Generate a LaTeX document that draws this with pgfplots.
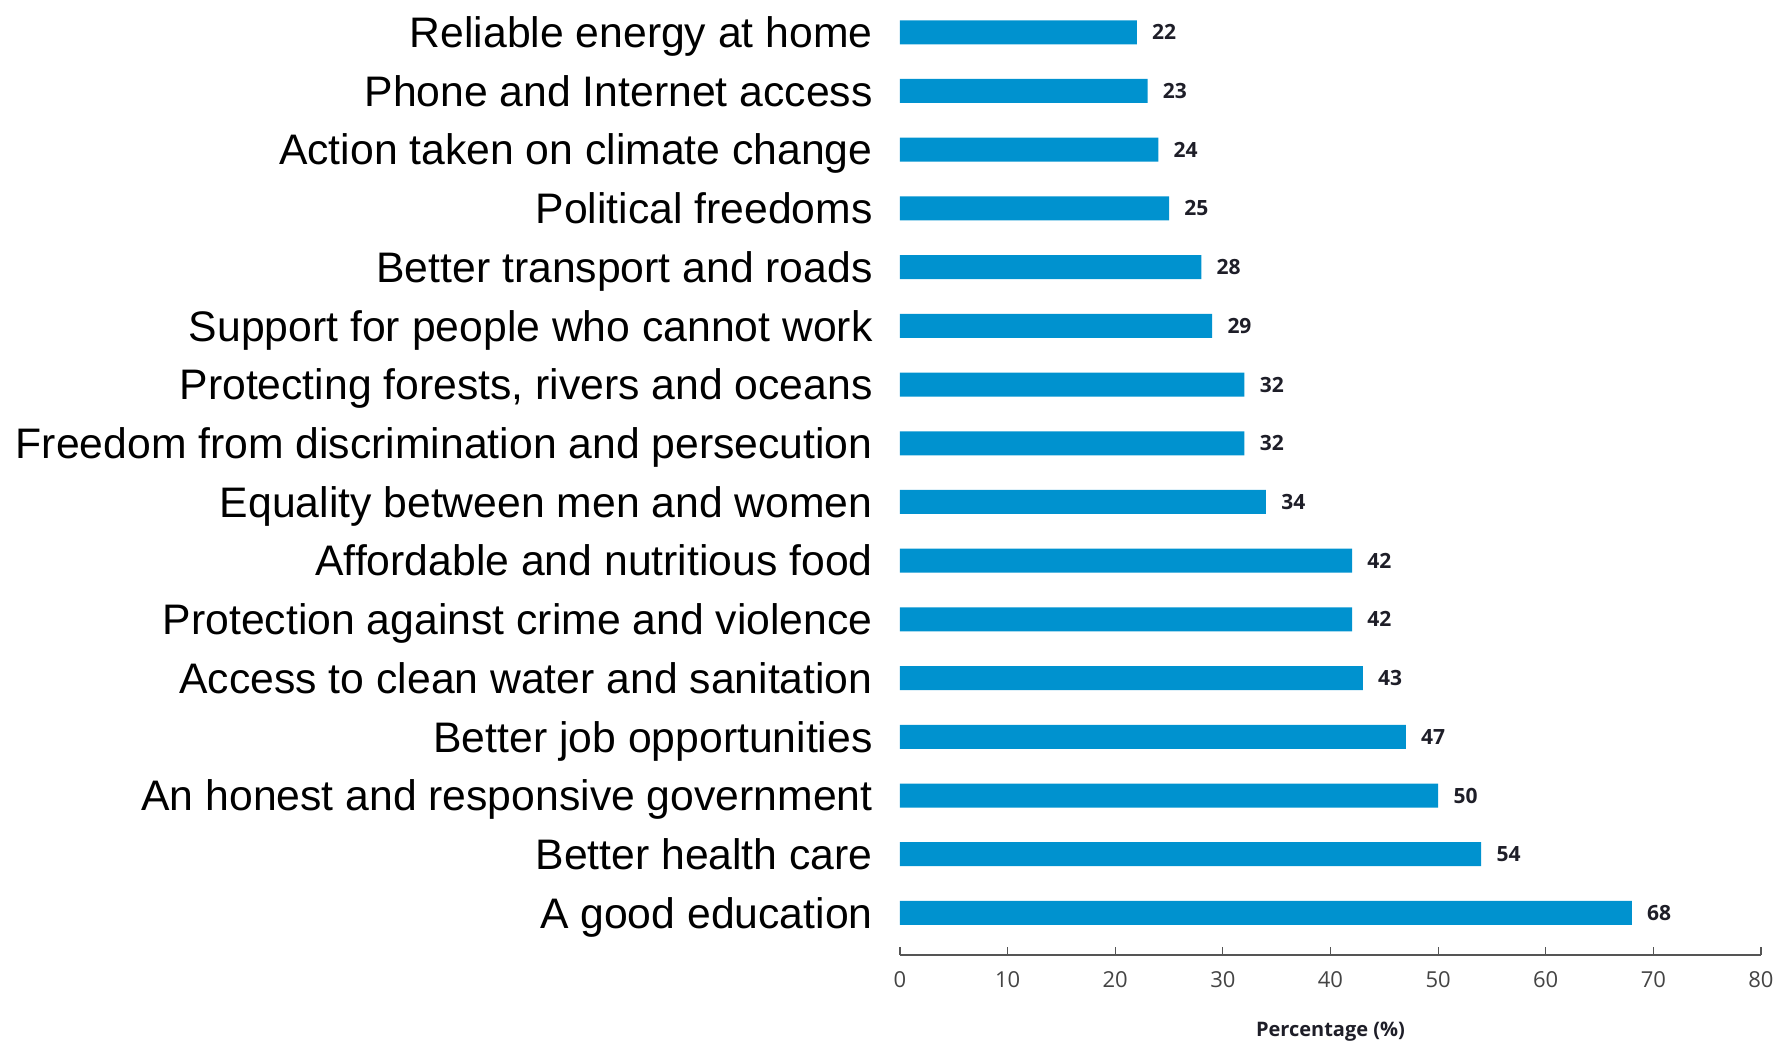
\documentclass[border=0pt]{standalone}
\usepackage{fontspec}
\setmainfont{Liberation Sans}
\newfontfamily\tickfont{Open Sans}
\usepackage{pgfplots}
\pgfplotsset{compat=1.18}
\definecolor{barblue}{RGB}{0,146,207}
\definecolor{axgray}{RGB}{85,85,85}
\definecolor{valcol}{RGB}{30,30,40}
\begin{document}
\begin{tikzpicture}
\path[use as bounding box] (0,0) rectangle (887pt,521pt);
\begin{axis}[
  at={(450pt,43.5pt)}, anchor=south west,
  scale only axis, width=430.5pt, height=477.5pt,
  xmin=0, xmax=80, ymin=-0.716, ymax=15.55,
  xbar, bar width=12pt,
  axis x line*=bottom, axis y line*=left,
  x axis line style={-, draw=axgray, line width=0.6pt},
  y axis line style={draw=none},
  ytick style={draw=none},
  xtick style={draw=axgray, line width=0.6pt},
  xtick align=inside, major tick length=4pt,
  xtick={0,10,...,80},
  /pgf/number format/assume math mode=true,
  xticklabel style={font=\tickfont\fontsize{11}{13}\selectfont, text=axgray!80!black, anchor=north, inner sep=0pt, yshift=-8pt},
  ytick={0,...,15},
  yticklabels={A good education, Better health care, An honest and responsive government, Better job opportunities, Access to clean water and sanitation, Protection against crime and violence, Affordable and nutritious food, Equality between men and women, Freedom from discrimination and persecution, {Protecting forests, rivers and oceans}, Support for people who cannot work, Better transport and roads, Political freedoms, Action taken on climate change, Phone and Internet access, Reliable energy at home},
  yticklabel style={font=\fontsize{21.35}{24}\selectfont, anchor=base east, inner sep=0pt, xshift=-9.5pt, yshift=-7.6pt},
  xlabel={Percentage (\%)},
  xlabel style={font=\tickfont\bfseries\fontsize{10}{12}\selectfont, text=valcol, at={(axis description cs:0.5,0)}, anchor=base, yshift=-41pt},
  nodes near coords,
  every node near coord/.append style={font=\tickfont\bfseries\fontsize{10.5}{12}\selectfont, text=valcol, anchor=west, inner sep=0pt, xshift=7.5pt},
  clip=false,
]
\addplot[fill=barblue, draw=none] coordinates {
(68,0) (54,1) (50,2) (47,3) (43,4) (42,5) (42,6) (34,7) (32,8) (32,9) (29,10) (28,11) (25,12) (24,13) (23,14) (22,15)
};
\end{axis}
\end{tikzpicture}
\end{document}
